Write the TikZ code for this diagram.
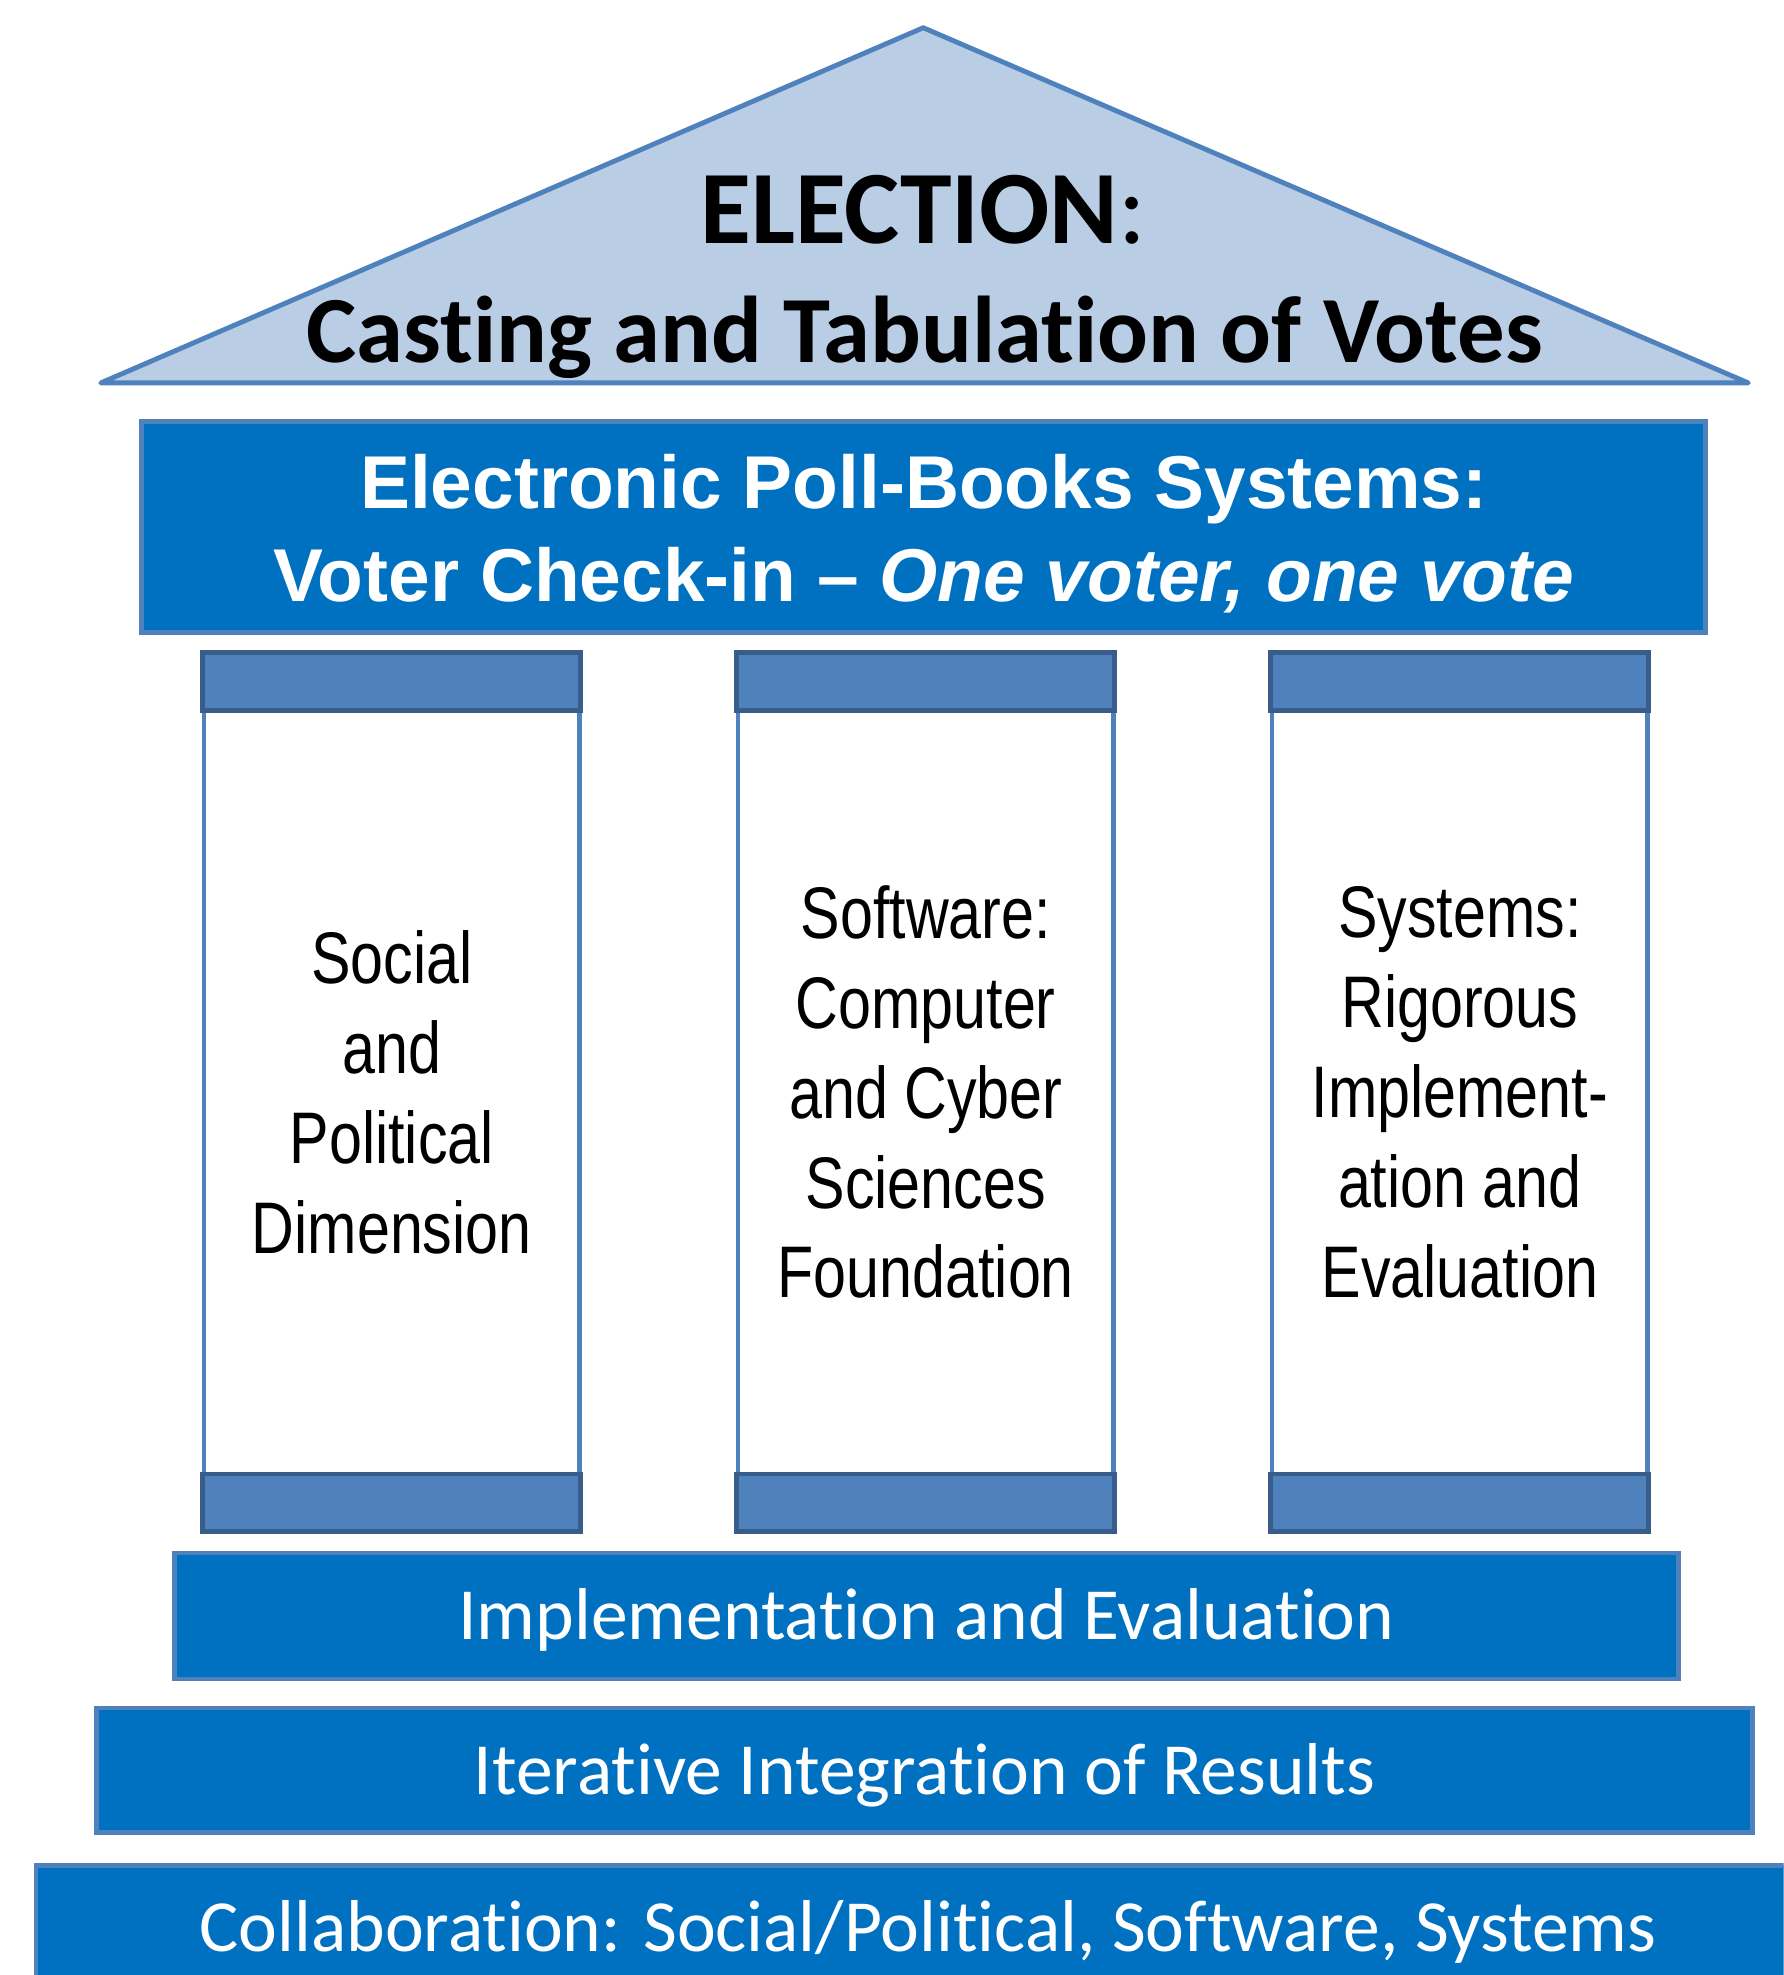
\documentclass[tikz,border=0pt]{standalone}
\usepackage{fontspec}
\usepackage{xcolor}
\usepackage{tikz}
\usetikzlibrary{positioning}

\newfontfamily\calibri{Carlito}[Ligatures={NoCommon}, Contextuals={NoAlternate}]
\newfontfamily\arial{Liberation Sans}
\newfontfamily\arialnarrow{Liberation Sans}[FakeStretch=0.81]

\definecolor{roofblue}{HTML}{B9CDE5}
\definecolor{edgeblue}{HTML}{4F81BD}
\definecolor{darkedge}{HTML}{385D8A}
\definecolor{barblue}{HTML}{0070C0}

\begin{document}
\begin{tikzpicture}[x=0.01cm, y=-0.01cm,
  bar/.style={draw=edgeblue, fill=barblue, line width=1.1pt, text=white, inner sep=0pt},
  bartext/.style={font=\calibri\fontsize{16.6}{20}\selectfont, text height=10.7pt, text depth=0pt},
  shaft/.style={draw=edgeblue, fill=white, line width=1.1pt, inner sep=0pt, outer sep=0pt,
    minimum width=2.98cm, minimum height=6.06cm, align=center,
    font=\arialnarrow\fontsize{16.5}{20.3}\selectfont},
  capbox/.style={draw=darkedge, fill=edgeblue, line width=1.1pt, inner sep=0pt, outer sep=0pt,
    minimum width=3.0cm, minimum height=0.46cm}]
  \path[use as bounding box, clip] (0,0) rectangle (1416,1568);

  % Roof
  \draw[edgeblue, fill=roofblue, line width=1.1pt, line join=round] (80,304) -- (733,22) -- (1388,304) -- cycle;
  \node[anchor=base, font=\calibri\bfseries\fontsize{23.5}{27}\selectfont] (election) at (733,193) {ELECTION\textmd{:}};
  \node[anchor=base, font=\calibri\bfseries\fontsize{21.4}{25}\selectfont] (casting) at (734,288) {Casting and Tabulation of Votes};

  % Architrave (strut keeps the two lines a bit low in the box)
  \node[bar, minimum width=12.41cm, minimum height=1.67cm, align=center,
    font=\arial\bfseries\fontsize{16.9}{20.8}\selectfont] (pollbooks) at (733.5,418.5)
    {\rule{0pt}{15.2pt}Electronic Poll-Books Systems:\\Voter Check-in – \textit{One voter, one vote}};

  % Pillars
  \node[shaft] (social) at (311,867) {Social\\and\\Political\\Dimension};
  \node[capbox, above=0pt of social] (socialcap) {};
  \node[capbox, below=0pt of social] (socialbase) {};

  \node[shaft] (software) at (735,867) {Software:\\Computer\\and Cyber\\Sciences\\Foundation};
  \node[capbox, above=0pt of software] (softwarecap) {};
  \node[capbox, below=0pt of software] (softwarebase) {};

  \node[shaft] (systems) at (1159,867) {Systems:\\Rigorous\\Implement-\\ation and\\Evaluation};
  \node[capbox, above=0pt of systems] (systemscap) {};
  \node[capbox, below=0pt of systems] (systemsbase) {};

  % Steps
  \node[bar, bartext, minimum width=11.93cm, minimum height=1.0cm] (implementation) at (735.5,1283) {Implementation and Evaluation};
  \node[bar, bartext, minimum width=13.14cm, minimum height=0.99cm] (integration) at (734,1405.5) {Iterative Integration of Results};
  \node[bar, bartext, minimum width=14.16cm, minimum height=0.99cm] (collaboration) at (737,1530.5) {Collaboration: Social/Political, Software, Systems};
\end{tikzpicture}
\end{document}
